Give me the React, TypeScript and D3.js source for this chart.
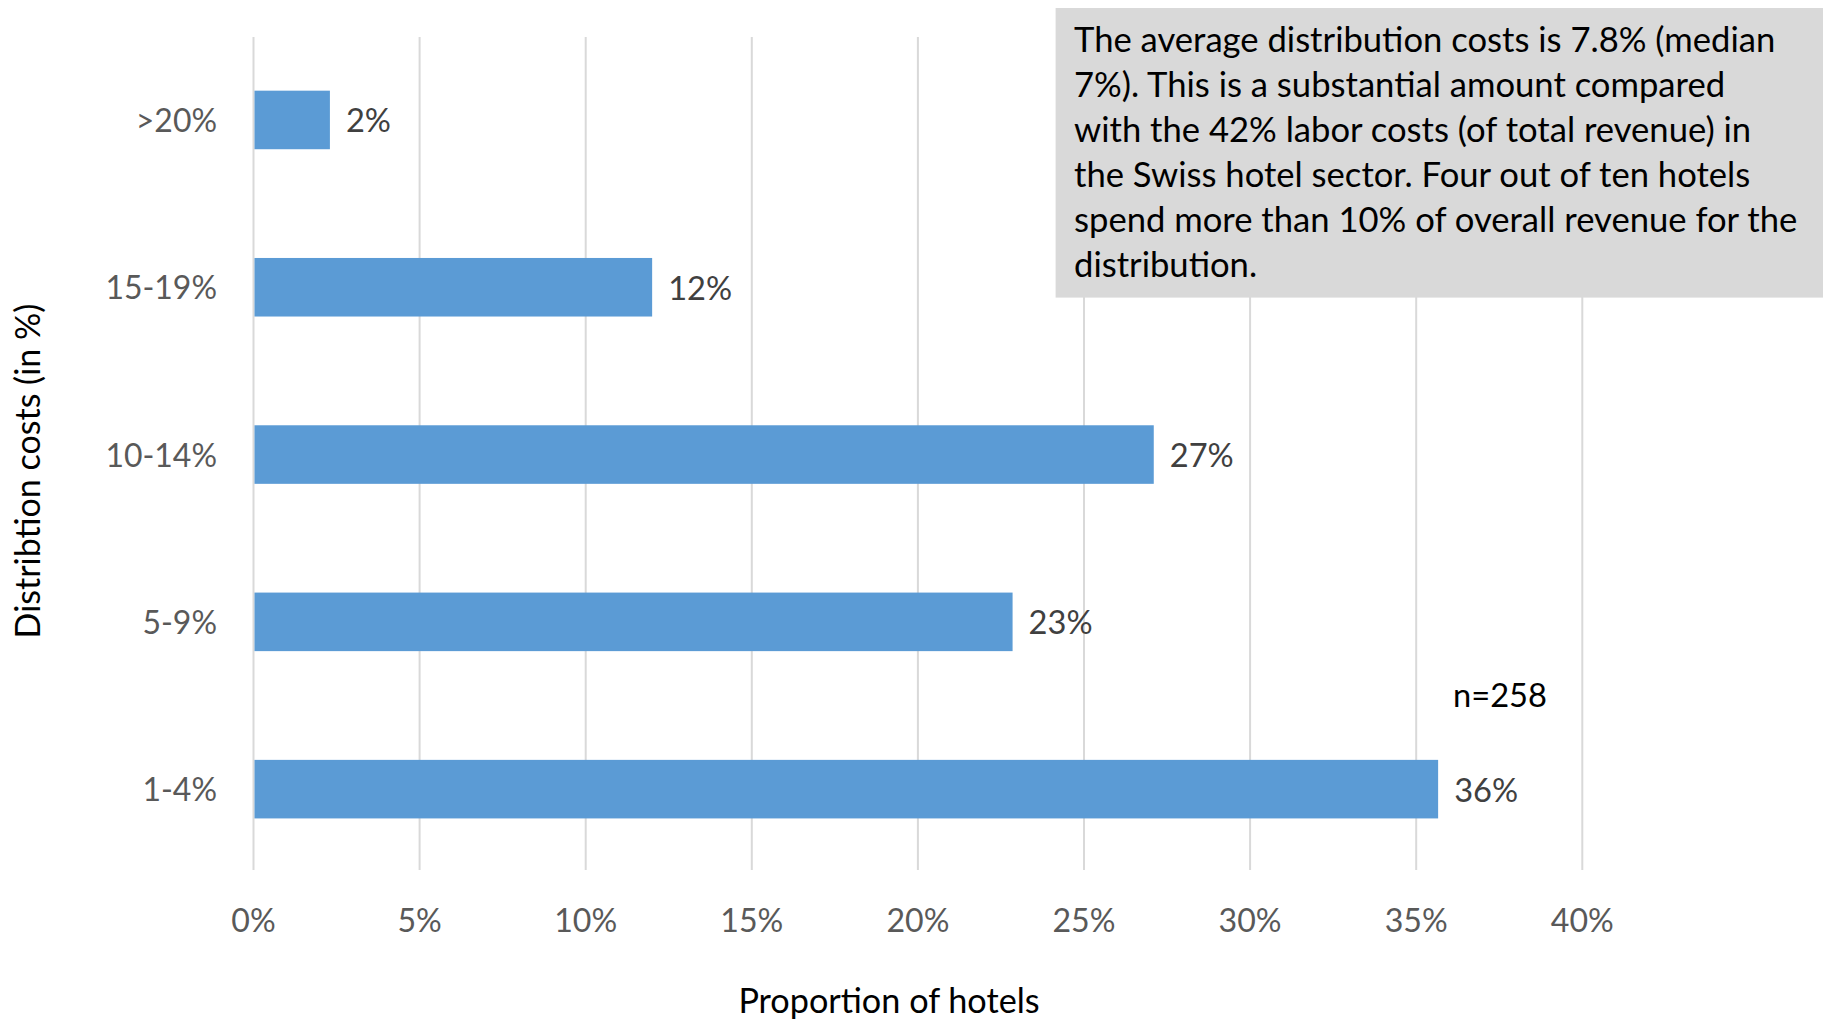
import React from "react";
import * as d3 from "d3";

const categories = [">20%", "15-19%", "10-14%", "5-9%", "1-4%"];
const values = [2.3, 12.0, 27.1, 22.85, 35.66];
const labels = ["2%", "12%", "27%", "23%", "36%"];
const ticks = [0, 5, 10, 15, 20, 25, 30, 35, 40];
const noteLines = [
  "The average distribution costs is 7.8% (median",
  "7%). This is a substantial amount compared",
  "with the 42% labor costs (of total revenue) in",
  "the Swiss hotel sector. Four out of ten hotels",
  "spend more than 10% of overall revenue for the",
  "distribution.",
];
const xTitle = "Proportion of hotels";
const yTitle = "Distribtion costs (in %)";
const nLabel = "n=258";

const FONT = "Lato, 'Open Sans', sans-serif";

function fit(text: string, target: number): number {
  const c = document.createElement("canvas");
  const ctx = c.getContext("2d");
  if (!ctx) return 30;
  ctx.font = `100px Lato`;
  const w = ctx.measureText(text).width;
  return (100 * target) / w;
}

export default function App() {
  const W = 1823, H = 1020;
  const left = 253.5, right = 1582.3, gridTop = 37, gridBottom = 870;
  const bandTop = 36.3, bandBottom = 872.8;
  const x = d3.scaleLinear().domain([0, 40]).range([left, right]);
  const y = d3.scaleBand().domain(categories).range([bandTop, bandBottom]).paddingInner(0.65).paddingOuter(0.325);

  const tickSize = fit("10%", 63);
  const catSize = fit("15-19%", 111.6);
  const dataSize = fit("36%", 64);
  const boxSize = fit(noteLines[4], 725);
  const xtSize = fit(xTitle, 302);
  const ytSize = fit(yTitle, 335);
  const nSize = fit(nLabel, 94);

  return (
    <svg width={W} height={H} style={{ position: "absolute", left: 0, top: 0, background: "#fff" }} fontFamily={FONT}>
      <rect x={0} y={0} width={W} height={H} fill="#fff" />
      {ticks.map((t) => (
        <line key={t} x1={x(t)} x2={x(t)} y1={gridTop} y2={gridBottom} stroke="#d9d9d9" strokeWidth={2} />
      ))}
      {categories.map((c, i) => (
        <g key={c}>
          <rect x={x(0) + 1} y={y(c)!} width={x(values[i]) - x(0) - 1} height={y.bandwidth()} fill="#5b9bd5" />
          <text x={x(values[i]) + 16} y={y(c)! + y.bandwidth() / 2} dy="0.38em" fontSize={dataSize} fill="#404040">
            {labels[i]}
          </text>
          <text x={217} y={y(c)! + y.bandwidth() / 2} dy="0.38em" textAnchor="end" fontSize={catSize} fill="#595959">
            {c}
          </text>
        </g>
      ))}
      {ticks.map((t) => (
        <text key={"t" + t} x={x(t)} y={932} textAnchor="middle" fontSize={tickSize} fill="#595959">
          {t + "%"}
        </text>
      ))}
      <text x={889} y={1013} textAnchor="middle" fontSize={xtSize} fill="#000">
        {xTitle}
      </text>
      <text transform={`translate(40,471) rotate(-90)`} textAnchor="middle" fontSize={ytSize} fill="#000">
        {yTitle}
      </text>
      <text x={1453} y={707} fontSize={nSize} fill="#000">
        {nLabel}
      </text>
      <rect x={1055.6} y={8} width={W - 1055.6} height={289.6} fill="#d9d9d9" />
      {noteLines.map((l, i) => (
        <text key={i} x={1074} y={52.3 + i * 44.9} fontSize={boxSize} fill="#000">
          {l}
        </text>
      ))}
    </svg>
  );
}
